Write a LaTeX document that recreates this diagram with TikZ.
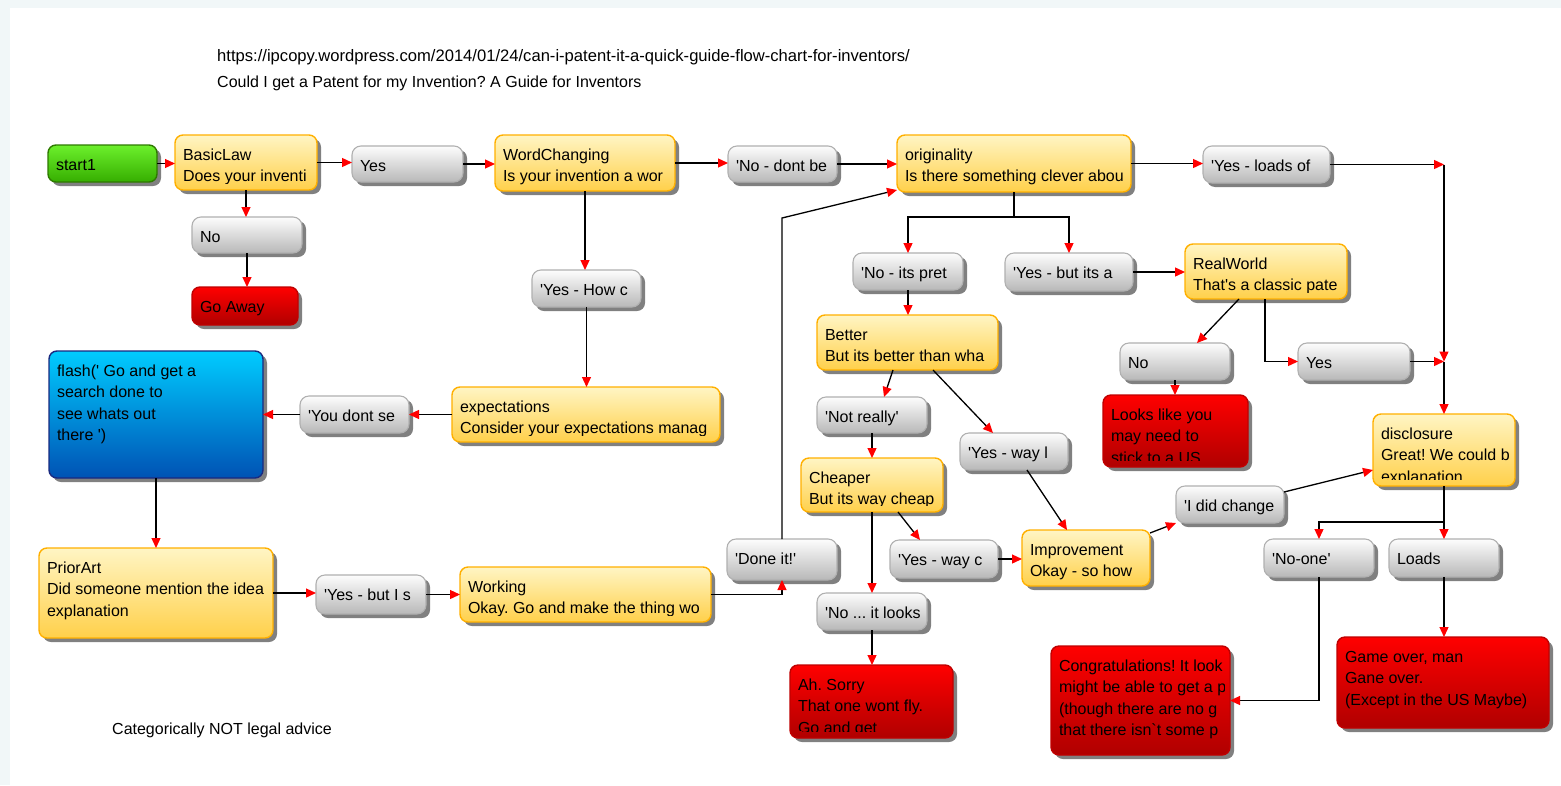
\documentclass[tikz,border=0pt]{standalone}
\usepackage{fontspec}
\setmainfont{Liberation Sans}
\usetikzlibrary{arrows.meta}
\frenchspacing
\definecolor{ytop}{HTML}{FFF5C4}
\definecolor{ybot}{HTML}{FFD04A}
\definecolor{yborder}{HTML}{FFB000}
\definecolor{gtop}{HTML}{FDFDFD}
\definecolor{gbot}{HTML}{B8B8B8}
\definecolor{gborder}{HTML}{B0B0B0}
\definecolor{rtop}{HTML}{FF0000}
\definecolor{rbot}{HTML}{B00000}
\definecolor{rborder}{HTML}{C00000}
\definecolor{btop}{HTML}{00CCFF}
\definecolor{bbot}{HTML}{0052B4}
\definecolor{bborder}{HTML}{1A2A80}
\definecolor{grtop}{HTML}{6CF02C}
\definecolor{grbot}{HTML}{36AE00}
\definecolor{grborder}{HTML}{2E7A00}
\definecolor{shadowc}{HTML}{808080}
\definecolor{bgc}{HTML}{F1F7F8}
\newcommand\q{\textquotesingle}
\tikzset{
 boxbase/.style={rectangle, rounded corners=8pt, inner sep=0pt, outer sep=0pt, line width=1.4pt},
 ybox/.style={boxbase, draw=yborder, top color=ytop, bottom color=ybot},
 gbox/.style={boxbase, draw=gborder, line width=1.1pt, top color=gtop, bottom color=gbot, rounded corners=9pt},
 rbox/.style={boxbase, draw=rborder, top color=rtop, bottom color=rbot},
 bbox/.style={boxbase, draw=bborder, top color=btop, bottom color=bbot},
 grbox/.style={boxbase, draw=grborder, top color=grtop, bottom color=grbot},
 txt/.style={shape=rectangle, draw=none, fill=none, minimum width=0pt, minimum height=0pt, anchor=north west, inner sep=0pt, align=left, font=\fontsize{16}{21.5}\selectfont, text=black},
 hdr/.style={anchor=west, inner sep=0pt, font=\fontsize{16}{19}\selectfont, text=black},
 shad/.style={fill=shadowc, rounded corners=8pt},
 ln/.style={draw=black, line width=1.3pt},
 ar/.style={ln, -{Triangle[length=10pt,width=9pt,color=red]}},
}
\newcommand\mkbox[7]{%
  \fill[shad] (#3+4,#4+4) rectangle ++(#5,#6);
  \node[#1, anchor=north west, minimum width=#5pt, minimum height=#6pt,
    path picture={%
      \clip ([xshift=4pt,yshift=-4pt]path picture bounding box.north west) rectangle ([xshift=-6pt,yshift=7pt]path picture bounding box.south east);
      \node[txt] at ([xshift=8pt,yshift=-10pt]path picture bounding box.north west) {\strut#7};}]
    (#2) at (#3,#4) {};
}
\begin{document}
\begin{tikzpicture}[x=1pt,y=-1pt]
\useasboundingbox (0,0) rectangle (1561,785);
\fill[bgc] (0,0) rectangle (1561,785);
\fill[white] (10,8) rectangle (1561,785);

\node[hdr, font=\fontsize{16.6}{19}\selectfont] (url) at (217,57) {https://ipcopy.wordpress.com/2014/01/24/can-i-patent-it-a-quick-guide-flow-chart-for-inventors/};
\node[hdr] (title) at (217,83) {Could I get a Patent for my Invention? A Guide for Inventors};
\node[hdr] (legal) at (112,730) {Categorically NOT legal advice};

\mkbox{grbox}{start}{48}{145}{109}{37}{start1}
\mkbox{ybox}{basic}{175}{135}{142}{55}{BasicLaw\\Does your inventi}
\mkbox{gbox}{yes1}{352}{146}{111}{36}{Yes}
\mkbox{ybox}{word}{495}{135}{180}{56}{WordChanging\\Is your invention a wor}
\mkbox{gbox}{nodont}{728}{146}{109}{36}{\q No - dont be}
\mkbox{ybox}{orig}{897}{135}{234}{57}{originality\\Is there something clever abou}
\mkbox{gbox}{loads1}{1203}{146}{127}{37}{\q Yes - loads of}
\mkbox{gbox}{noL}{192}{217}{110}{36}{No}
\mkbox{rbox}{goaway}{192}{287}{106}{38}{Go Away}
\mkbox{gbox}{yeshow}{532}{270}{109}{37}{\q Yes - How c}
\mkbox{bbox}{flash}{49}{351}{214}{127}{flash(\q{} Go and get a\\search done to\\see whats out\\there \q)}
\mkbox{gbox}{youdont}{300}{396}{109}{37}{\q You dont se}
\mkbox{ybox}{expect}{452}{387}{268}{55}{expectations\\Consider your expectations manag}
\mkbox{ybox}{prior}{39}{548}{234}{90}{PriorArt\\Did someone mention the idea\\explanation}
\mkbox{gbox}{yesbut}{316}{575}{110}{39}{\q Yes - but I s}
\mkbox{ybox}{working}{460}{567}{251}{55}{Working\\Okay. Go and make the thing wo}
\mkbox{gbox}{doneit}{727}{539}{110}{41}{\q Done it!\q}
\mkbox{gbox}{nopret}{853}{253}{110}{37}{\q No - its pret}
\mkbox{gbox}{yesbuta}{1005}{253}{128}{38}{\q Yes - but its a}
\mkbox{ybox}{rw}{1185}{244}{162}{55}{RealWorld\\That\q s a classic pate}
\mkbox{ybox}{better}{817}{315}{181}{55}{Better\\But its better than wha}
\mkbox{gbox}{noR}{1120}{343}{110}{37}{No}
\mkbox{gbox}{yesR}{1298}{343}{112}{37}{Yes}
\mkbox{rbox}{looks}{1103}{395}{145}{72}{Looks like you\\may need to\\stick to a US}
\mkbox{gbox}{notreally}{817}{397}{110}{36}{\q Not really\q}
\mkbox{gbox}{yeswayl}{960}{433}{108}{37}{\q Yes - way l}
\mkbox{ybox}{cheaper}{801}{458}{142}{54}{Cheaper\\But its way cheap}
\mkbox{ybox}{disc}{1373}{414}{142}{72}{disclosure\\Great! We could b\\explanation}
\mkbox{gbox}{idc}{1176}{486}{108}{37}{\q I did change}
\mkbox{gbox}{yeswayc}{890}{540}{108}{38}{\q Yes - way c}
\mkbox{ybox}{impr}{1022}{530}{128}{56}{Improvement\\Okay - so how}
\mkbox{gbox}{noone}{1264}{539}{110}{38}{\q No-one\q}
\mkbox{gbox}{loads}{1389}{539}{110}{38}{Loads}
\mkbox{gbox}{nolooks}{817}{593}{110}{37}{\q No ... it looks}
\mkbox{rbox}{sorry}{790}{665}{163}{73}{Ah. Sorry\\That one wont fly.\\Go and get}
\mkbox{rbox}{congrats}{1051}{646}{179}{109}{Congratulations! It look\\might be able to get a p\\(though there are no g\\that there isn\textasciigrave t some p}
\mkbox{rbox}{gameover}{1337}{637}{212}{91}{Game over, man\\Gane over.\\(Except in the US Maybe)}

% connectors
\draw[ar] (start.east) -- (start.east -| basic.west);
\draw[ar] (basic.east) -- (basic.east -| yes1.west);
\draw[ar] (yes1.east) -- (yes1.east -| word.west);
\draw[ar] (word.east) -- (word.east -| nodont.west);
\draw[ar] (nodont.east) -- (nodont.east -| orig.west);
\draw[ar] (orig.east) -- (orig.east -| loads1.west);
\coordinate (j1) at (disc.north |- loads1.east);
\coordinate (j2) at (disc.north |- yesR.east);
\draw[ar] (loads1.east) -- (j1);
\draw[ar] (j1) -- (j2);
\draw[ar] (yesR.east) -- (j2);
\draw[ar] (j2) -- (disc.north);
\draw[ar] (basic.south) -- (basic.south |- noL.north);
\draw[ar] (noL.south) -- (noL.south |- goaway.north);
\draw[ar] (word.south) -- (word.south |- yeshow.north);
\draw[ar] (yeshow.south) -- (yeshow.south |- expect.north);
\draw[ar] (expect.west) -- (expect.west -| youdont.east);
\draw[ar] (youdont.west) -- (youdont.west -| flash.east);
\draw[ar] (flash.south) -- (flash.south |- prior.north);
\draw[ar] (prior.east) -- (prior.east -| yesbut.west);
\draw[ar] (yesbut.east) -- (yesbut.east -| working.west);
\draw[ar] (working.east) -| (doneit.south);
\coordinate (kd) at (782,218);
\draw[ar] (doneit.north) -- (kd) -- ([yshift=2pt]orig.south west);
\draw[ln] (orig.south) -- ++(0,25) coordinate (s1);
\draw[ar] (s1) -| (nopret.north);
\draw[ar] (s1) -| (yesbuta.north);
\draw[ar] (yesbuta.east) -- (yesbuta.east -| rw.west);
\draw[ar] (nopret.south) -- (nopret.south |- better.north);
\draw[ar] ([xshift=54pt]rw.south west) -- ([xshift=77pt]noR.north west);
\draw[ar] ([xshift=80pt]rw.south west) |- (yesR.west);
\draw[ar] (noR.south) -- (noR.south |- looks.north);
\draw[ar] ([xshift=76pt]better.south west) -- ([xshift=67pt]notreally.north west);
\draw[ar] ([xshift=116pt]better.south west) -- ([xshift=33pt]yeswayl.north west);
\draw[ar] (notreally.south) -- (notreally.south |- cheaper.north);
\draw[ar] ([xshift=67pt]yeswayl.south west) -- ([xshift=45pt]impr.north west);
\draw[ar] ([xshift=97pt]cheaper.south west) -- ([xshift=30pt]yeswayc.north west);
\draw[ar] (cheaper.south) -- (cheaper.south |- nolooks.north);
\draw[ar] (nolooks.south) -- (nolooks.south |- sorry.north);
\draw[ar] (yeswayc.east) -- (yeswayc.east -| impr.west);
\draw[ar] ([yshift=-3pt]impr.north east) -- (idc.south west);
\draw[ar] ([yshift=-6pt]idc.north east) -- ([yshift=16pt]disc.south west);
\draw[ln] (disc.south) -- ++(0,36) coordinate (s2);
\draw[ar] (s2) -| (noone.north);
\draw[ar] (s2) -- (loads.north);
\draw[ar] (noone.south) |- (congrats.east);
\draw[ar] (loads.south) -- (loads.south |- gameover.north);
\end{tikzpicture}
\end{document}
